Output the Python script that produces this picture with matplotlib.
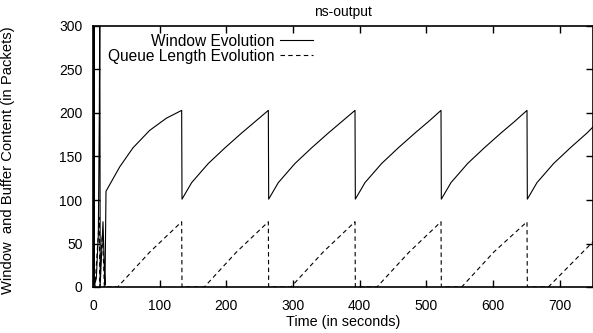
import matplotlib
matplotlib.use("Agg")
import matplotlib.pyplot as plt

plt.rcParams['font.family'] = ['Liberation Sans', 'DejaVu Sans']

# Window evolution (packets) vs time (s)
win_t = [0, 1, 1.5, 2.2, 5, 8, 9.5, 10.2, 10.8, 13, 15, 17, 18, 19.5,
         40, 60, 85, 110, 133,
         133.5, 148, 173, 198, 223, 243, 263,
         263.5, 278, 303, 328, 353, 373, 393,
         393.5, 408, 433, 458, 483, 503, 522,
         522.5, 537, 562, 587, 612, 632, 651,
         651.5, 666, 691, 716, 741, 750]
win_v = [1, 40, 330, 2, 10, 60, 200, 340, 2, 40, 75, 20, 2, 110,
         138, 160, 180, 194, 203,
         101, 120, 142, 160, 177, 190, 203,
         101, 120, 142, 160, 177, 190, 203,
         101, 120, 142, 160, 177, 190, 203,
         101, 120, 142, 160, 177, 190, 203,
         101, 120, 142, 160, 177, 184]

# Queue length evolution (packets) vs time (s)
q_t = [0, 3, 9.5, 10.3, 12, 14, 16, 17, 37,
       85, 133, 133.5, 167, 215, 263, 263.5, 297, 345, 393, 393.5,
       426, 474, 522, 522.5, 553, 601, 651, 651.5, 683, 750]
q_v = [0, 0, 80, 0, 40, 60, 25, 0, 0,
       40, 75, 0, 0, 40, 75, 0, 0, 40, 75, 0,
       0, 40, 75, 0, 0, 40, 75, 0, 0, 52]

x_ticks = [0, 100, 200, 300, 400, 500, 600, 700]
y_ticks = [0, 50, 100, 150, 200, 250, 300]

fig = plt.figure(figsize=(5.93, 3.33), dpi=100)
ax = fig.add_axes([93/593, 1 - 287/333, 500/593, 261/333])

ax.plot(win_t, win_v, color='black', lw=0.8, label='Window Evolution')
ax.plot(q_t, q_v, color='black', lw=0.8, ls=(0, (4, 3)), label='Queue Length Evolution')

ax.set_xlim(0, 750)
ax.set_ylim(0, 300)
ax.set_xticks(x_ticks)
ax.set_yticks(y_ticks)
ax.tick_params(direction='in', length=5, width=1, top=True, right=True,
               labelsize=10)
ax.tick_params(axis='x', pad=8.5)
ax.tick_params(axis='y', pad=7.5)
for s in ax.spines.values():
    s.set_linewidth(1.2)

ax.set_title('ns-output', fontsize=10, pad=7)
ax.set_xlabel('Time (in seconds)', fontsize=10.4, labelpad=1.5)
ax.set_ylabel('Window  and Buffer Content (in Packets)', fontsize=10.6)
ax.yaxis.set_label_coords(-0.156, 0.487)

ax.legend(loc='upper right', bbox_to_anchor=(0.44, 0.97), frameon=False,
          markerfirst=False, fontsize=11.2, handlelength=2.1,
          handletextpad=0.35, labelspacing=0.0, borderpad=0, borderaxespad=0)

fig.savefig('out.png', dpi=100)
